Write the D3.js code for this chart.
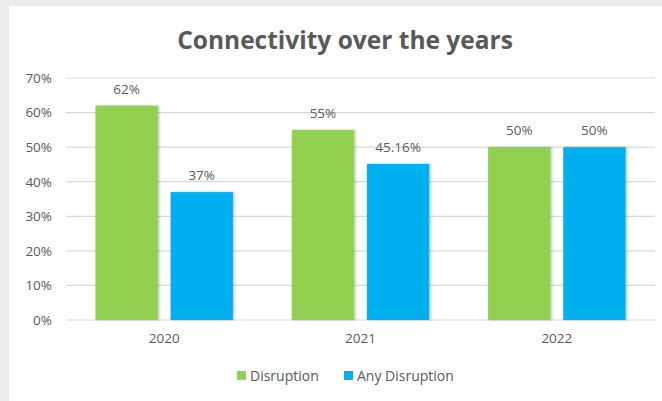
<!DOCTYPE html>
<html lang="en">
<head>
<meta charset="utf-8">
<title>Connectivity over the years</title>
<script src="https://d3js.org/d3.v7.js"></script>
<style>
  body { margin: 0; background: #ececec; }
  text { font-family: "Open Sans", sans-serif; fill: #595959; }
</style>
</head>
<body>
<script>
var years = ["2020", "2021", "2022"];
var seriesNames = ["Disruption", "Any Disruption"];
var disruption = [62, 55, 50];
var anyDisruption = [37, 45.16, 50];
var valueLabels = [["62%", "37%"], ["55%", "45.16%"], ["50%", "50%"]];
var yTicks = [0, 10, 20, 30, 40, 50, 60, 70];
var colors = ["#92D050", "#00B0F0"];

var w = 662, h = 401;
var plotLeft = 66, plotRight = 655, plotTop = 78, plotBottom = 320;

var svg = d3.select("body").append("svg")
  .attr("width", w).attr("height", h);

// chart box
svg.append("rect").attr("x", 9).attr("y", 6).attr("width", w - 9).attr("height", h - 6)
  .attr("fill", "#fff");

var defs = svg.append("defs");
var f = defs.append("filter").attr("id", "sh").attr("x", "-10%").attr("y", "-10%").attr("width", "130%").attr("height", "120%");
f.append("feDropShadow").attr("dx", 1.5).attr("dy", 0).attr("stdDeviation", 1.2)
  .attr("flood-color", "#000").attr("flood-opacity", 0.25);

var x0 = d3.scaleBand().domain(years).range([plotLeft, plotRight]).paddingInner(0.3).paddingOuter(0.15);
var x1 = d3.scaleBand().domain(seriesNames).range([0, x0.bandwidth()]).paddingInner(0.17);
var y = d3.scaleLinear().domain([0, 70]).range([plotBottom, plotTop]);

// gridlines
svg.append("g").selectAll("line").data(yTicks).enter().append("line")
  .attr("x1", plotLeft).attr("x2", plotRight)
  .attr("y1", d => y(d)).attr("y2", d => y(d))
  .attr("stroke", "#d9d9d9").attr("stroke-width", 1.2);

// y labels
var yAxis = d3.axisLeft(y).tickValues(yTicks).tickFormat(d => d + "%").tickSize(0).tickPadding(14);
var ya = svg.append("g").attr("transform", "translate(" + plotLeft + ",0)").call(yAxis);
ya.select(".domain").remove();
ya.selectAll("text").attr("font-size", 13.5).attr("font-family", null);

var rows = years.map((yr, i) => ({ year: yr, vals: [disruption[i], anyDisruption[i]], labels: valueLabels[i] }));

var groups = svg.append("g").selectAll("g").data(rows).enter().append("g")
  .attr("transform", d => "translate(" + x0(d.year) + ",0)");

groups.selectAll("rect").data(d => d.vals.map((v, j) => ({ v: v, j: j }))).enter().append("rect")
  .attr("x", d => x1(seriesNames[d.j]))
  .attr("y", d => y(d.v))
  .attr("width", x1.bandwidth())
  .attr("height", d => y(0) - y(d.v))
  .attr("fill", d => colors[d.j])
  .attr("filter", "url(#sh)");

groups.selectAll("text").data(d => d.vals.map((v, j) => ({ v: v, j: j, t: d.labels[j] }))).enter().append("text")
  .attr("x", d => x1(seriesNames[d.j]) + x1.bandwidth() / 2)
  .attr("y", d => y(d.v) - 12)
  .attr("text-anchor", "middle")
  .attr("font-size", 13.5)
  .text(d => d.t);

// x labels
var xAxis = d3.axisBottom(x0).tickSize(0).tickPadding(13);
var xa = svg.append("g").attr("transform", "translate(0," + plotBottom + ")").call(xAxis);
xa.select(".domain").remove();
xa.selectAll("text").attr("font-size", 13.5).attr("font-family", null);

// title
svg.append("text").attr("x", 345).attr("y", 49).attr("text-anchor", "middle")
  .attr("font-size", 24.5).attr("font-weight", "bold").text("Connectivity over the years");

// legend
var legX = [237, 344];
var leg = svg.append("g").selectAll("g").data(seriesNames).enter().append("g")
  .attr("transform", (d, i) => "translate(" + legX[i] + ",371)");
leg.append("rect").attr("width", 9).attr("height", 9).attr("fill", (d, i) => colors[i]);
leg.append("text").attr("x", 13).attr("y", 10).attr("font-size", 14).text(d => d);
</script>
</body>
</html>
